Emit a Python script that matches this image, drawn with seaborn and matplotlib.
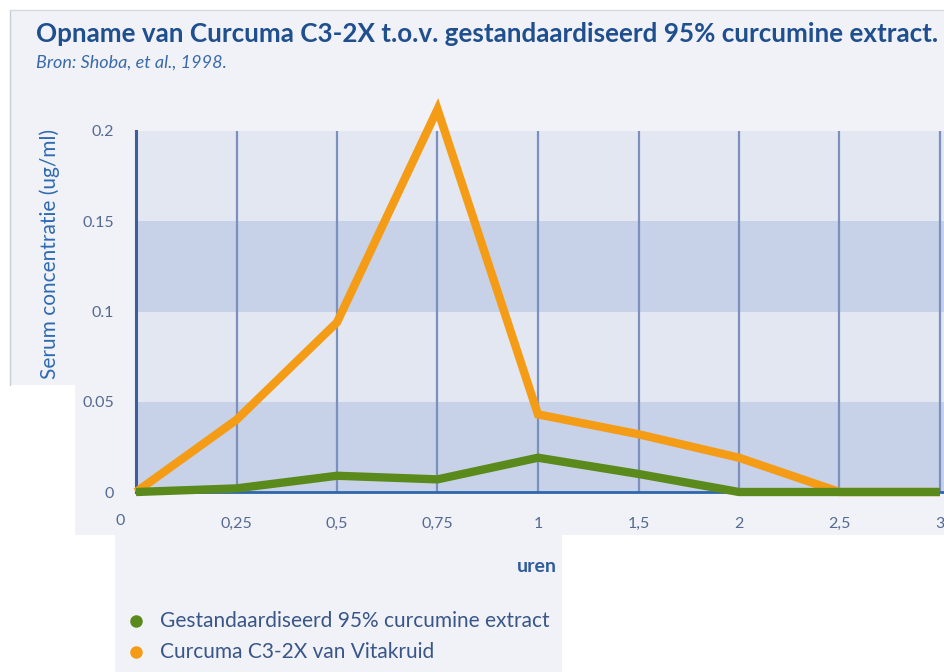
import pandas as pd
import seaborn as sns
import matplotlib.pyplot as plt
from matplotlib.patches import Rectangle

# data
hours = ['0', '0,25', '0,5', '0,75', '1', '1,5', '2', '2,5', '3']
standard_95 = [0.0, 0.002, 0.009, 0.007, 0.019, 0.010, 0.0, 0.0, 0.0]
curcuma_c3 = [0.0, 0.040, 0.094, 0.212, 0.043, 0.032, 0.019, 0.0, 0.0]
series_names = ['Gestandaardiseerd 95% curcumine extract', 'Curcuma C3-2X van Vitakruid']
y_ticks = [0, 0.05, 0.1, 0.15, 0.2]
y_ticklabels = ['0', '0.05', '0.1', '0.15', '0.2']

colors = {series_names[0]: '#5b8a1c', series_names[1]: '#f59c17'}

pos = list(range(len(hours)))
df = pd.DataFrame({
    'pos': pos * 2,
    'value': curcuma_c3 + standard_95,
    'serie': [series_names[1]] * len(hours) + [series_names[0]] * len(hours),
})

sns.set_style('white')
plt.rcParams['font.family'] = ['Lato', 'DejaVu Sans']

W, H = 944, 672
fig = plt.figure(figsize=(W / 100, H / 100), dpi=100)
fig.patch.set_facecolor('white')

# background panels (screenshot pieces)
bg = '#f0f2f8'
def panel(x0, y0, x1, y1):
    fig.patches.append(Rectangle((x0 / W, 1 - y1 / H), (x1 - x0) / W, (y1 - y0) / H,
                                 transform=fig.transFigure, facecolor=bg, edgecolor='none',
                                 zorder=-5))
panel(10, 10, 944, 385)
panel(75, 385, 944, 535)
panel(115, 535, 562, 672)
fig.add_artist(plt.Line2D([10 / W, 10 / W], [1 - 385 / H, 1 - 10 / H], transform=fig.transFigure,
                          color='#c9ccd4', lw=1, zorder=-4))
fig.add_artist(plt.Line2D([10 / W, 1], [1 - 10 / H, 1 - 10 / H], transform=fig.transFigure,
                          color='#d5d8de', lw=1, zorder=-4))

ax_left, ax_right = 136, 944
ax_top, ax_bottom = 131, 492
ax = fig.add_axes([ax_left / W, 1 - ax_bottom / H, (ax_right - ax_left) / W, (ax_bottom - ax_top) / H])
ax.set_facecolor('none')
ax.set_zorder(2)

step = (940 - 136) / 8
ax.set_xlim(0, (ax_right - ax_left) / step)
ax.set_ylim(0, 0.2)

# alternating bands
for lo, hi, c in [(0, 0.05, '#c7d1e7'), (0.05, 0.1, '#e2e7f2'), (0.1, 0.15, '#c7d1e7'), (0.15, 0.2, '#e2e7f2')]:
    ax.axhspan(lo, hi, color=c, zorder=0, lw=0)
for p in pos[1:]:
    ax.axvline(p, color='#7d90bd', lw=1.6, zorder=1)

sns.lineplot(data=df, x='pos', y='value', hue='serie', palette=colors, linewidth=6,
             legend=False, ax=ax)
for line in ax.lines[-2:]:
    line.set_clip_on(False)
    line.set_solid_joinstyle('miter')
    line.set_solid_capstyle('butt')
    line.set_zorder(4 if line.get_color() == colors[series_names[0]] else 3)

for s in ['top', 'right']:
    ax.spines[s].set_visible(False)
ax.spines['left'].set_color('#3b5f9c')
ax.spines['left'].set_linewidth(2.2)
ax.spines['bottom'].set_color('#2d66ab')
ax.spines['bottom'].set_linewidth(2)

tick_color = '#56698f'
ax.set_yticks(y_ticks)
ax.set_yticklabels(y_ticklabels)
ax.set_xticks(pos[1:])
ax.set_xticklabels(hours[1:])
ax.tick_params(axis='both', length=0, colors=tick_color, labelsize=11.5)
ax.tick_params(axis='y', pad=16)
ax.tick_params(axis='x', pad=18)
fig.text(120 / W, 1 - 521 / H, hours[0], ha='center', va='center', color=tick_color, fontsize=11.5)

ax.set_xlabel('')
ax.set_ylabel('')
fig.text(50 / W, 1 - 254 / H, 'Serum concentratie (ug/ml)', rotation=90, ha='center', va='center',
         color='#2f6ab0', fontsize=15)
fig.text(557 / W, 1 - 567 / H, 'uren', ha='right', va='center', color='#2f5b9c',
         fontsize=14, fontweight='bold')

title = fig.text(36 / W, 1 - 34 / H,
                 'Opname van Curcuma C3-2X t.o.v. gestandaardiseerd 95% curcumine extract.',
                 ha='left', va='center', color='#1f4f8f', fontsize=19, fontweight='bold')
# shrink the title so it ends just before the right edge
r = fig.canvas.get_renderer()
tw = title.get_window_extent(r).width
title.set_fontsize(19 * 900 / tw)

fig.text(36 / W, 1 - 63 / H, 'Bron: Shoba, et al., 1998.', ha='left', va='center', color='#3b6aa8',
         fontsize=13, style='italic')

# legend
for i, name in enumerate(series_names):
    yy = 1 - (621 + 31 * i) / H
    fig.add_artist(plt.Line2D([136 / W], [yy], transform=fig.transFigure, marker='o', markersize=8,
                              color=colors[name], linestyle='none'))
    fig.text(160 / W, yy, name, ha='left', va='center', color='#3a5688', fontsize=15)

plt.savefig('out.png', dpi=100)
